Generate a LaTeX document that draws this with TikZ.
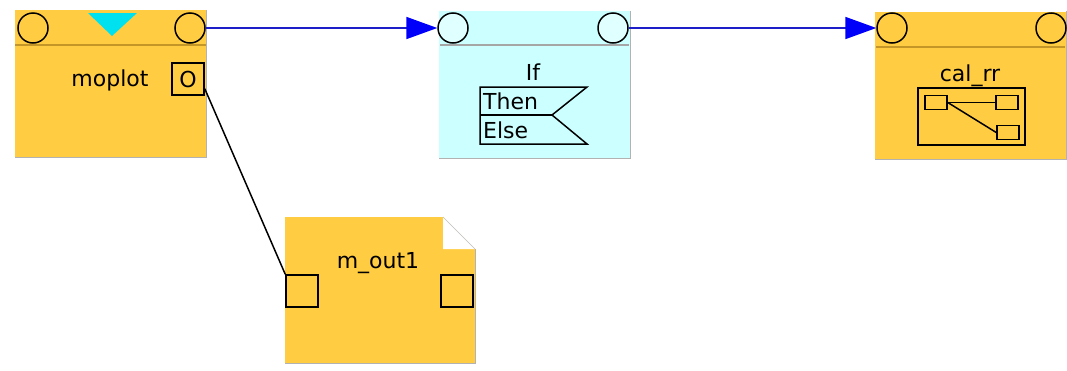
\documentclass[tikz,border=0pt]{standalone}
\usepackage{fontspec}
\setmainfont{DejaVu Sans}
\usetikzlibrary{arrows.meta}
\definecolor{blockorange}{RGB}{255,204,66}
\definecolor{blockcyan}{RGB}{204,255,255}
\definecolor{headline}{RGB}{196,150,40}
\definecolor{linkblue}{RGB}{30,30,200}
\definecolor{tipblue}{RGB}{0,0,250}
\definecolor{flagcyan}{RGB}{0,225,240}
\tikzset{
  block/.style={rectangle, inner sep=0pt, minimum width=191pt, minimum height=147pt},
  port/.style={circle, draw, line width=1.5pt, minimum size=30pt, inner sep=0pt},
  sqport/.style={rectangle, draw, line width=1.5pt, minimum size=32pt, inner sep=0pt},
  tinyport/.style={rectangle, draw, line width=1.5pt, minimum width=22pt, minimum height=14pt, inner sep=0pt},
  link/.style={draw=linkblue, line width=1.8pt, -{Triangle[length=31pt,width=22pt,color=tipblue]}},
  wire/.style={draw, line width=1.5pt}
}
\begin{document}
\begin{tikzpicture}[x=1pt, y=-1pt, font=\fontsize{22}{26}\selectfont]
    \useasboundingbox (0,0) rectangle (1067,370);

    % the moplot block
    \node[block, fill=blockorange] (moplot) at (110.5,83.5) {};
    \draw[gray!60] (moplot.north east) -- (moplot.south east) -- (moplot.south west);
    \draw[headline, line width=1.4pt] (15,45) -- (206,45);
    \fill[flagcyan] (88,13) -- (137,13) -- (112,36) -- cycle;
    \node[port, fill=blockorange] (mpin) at (33,28) {};
    \node[port, fill=blockorange] (mpout) at (190,28) {};
    \node (mplabel) at (110,80) {moplot};
    \node[sqport] (oport) at (188,79) {O};

    % the If block
    \node[block, fill=blockcyan] (ifblk) at (534.5,84.5) {};
    \draw[gray!60] (ifblk.north east) -- (ifblk.south east) -- (ifblk.south west);
    \draw[gray!70, line width=1.4pt] (440,45) -- (629,45);
    \node[port, fill=blockcyan!60!white] (ifin) at (453,28) {};
    \node[port, fill=blockcyan!60!white] (ifout) at (613,28) {};
    \node (iflabel) at (533,72) {If};
    \draw[line width=1.5pt] (480,87) -- (587,87) -- (552,115) -- (587,144) -- (480,144) -- cycle;
    \draw[line width=1.5pt] (480,115) -- (552,115);
    \node[anchor=west, inner sep=0pt] (thenlabel) at (483,101) {Then};
    \node[anchor=west, inner sep=0pt] (elselabel) at (483,130) {Else};

    % the cal_rr block
    \node[block, fill=blockorange] (calrr) at (970.5,85) {};
    \draw[gray!60] (calrr.north east) -- (calrr.south east) -- (calrr.south west);
    \draw[headline, line width=1.4pt] (876,47) -- (1065,47);
    \node[port, fill=blockorange] (crin) at (892,28) {};
    \node[port, fill=blockorange] (crout) at (1051,28) {};
    \node (crlabel) at (970,76) {cal\_rr};
    \draw[line width=1.5pt] (918,88) rectangle (1025,145);
    \node[tinyport] (sqa) at (936,102.5) {};
    \node[tinyport] (sqb) at (1007,102.5) {};
    \node[tinyport] (sqc) at (1008,132.5) {};
    \draw[wire] (sqa.east) -- (sqb.west);
    \draw[wire] (sqa.east) -- (sqc.west);

    % the m_out1 block with folded corner
    \fill[blockorange] (285,217) -- (443,217) -- (475,249) -- (475,363) -- (285,363) -- cycle;
    \draw[gray!60] (475,249) -- (475,363) -- (285,363);
    \fill[white] (443,217) -- (443,249) -- (475,249) -- cycle;
    \draw[gray!50] (443,217) -- (475,249);
    \node (molabel) at (378,263) {m\_out1};
    \node[sqport] (moin) at (302,291) {};
    \node[sqport] (moout) at (457,291) {};

    % connectors
    \draw[link] (mpout.east) -- (ifin.west);
    \draw[link] (ifout.east) -- (crin.west);
    \draw[wire] (oport.-30) -- (moin.north west);
\end{tikzpicture}
\end{document}
